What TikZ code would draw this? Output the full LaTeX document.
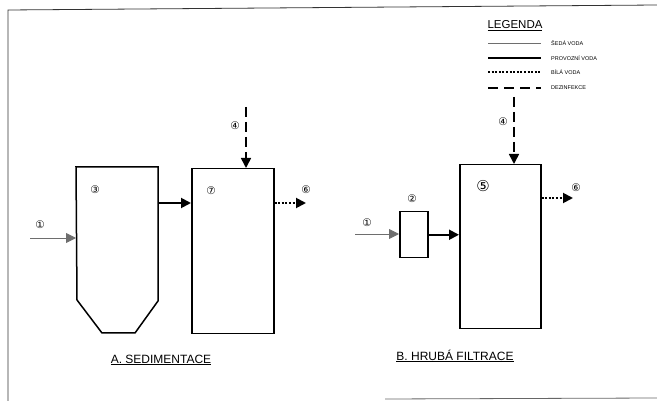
\documentclass[tikz,border=0pt]{standalone}
\usepackage{fontspec}
\setmainfont{Liberation Sans}
\newfontfamily\symfont{DejaVu Sans}
\usetikzlibrary{arrows.meta,positioning}
\definecolor{greywater}{HTML}{6E6E6E}
\tikzset{
  unit/.style={draw,line width=1.5pt,inner sep=0pt},
  tip/.style={-{Triangle[length=10pt,width=10pt]}},
  greyline/.style={draw=greywater,line width=0.9pt},
  provline/.style={line width=1.9pt},
  whiteline/.style={line width=1.9pt,dash pattern=on 2pt off 1.6pt},
  dezline/.style={line width=1.6pt,dash pattern=on 10pt off 5pt},
  num/.style={font=\symfont\fontsize{10.5}{10.5}\selectfont,inner sep=0pt},
  legtext/.style={font=\fontsize{5.5}{6}\selectfont,inner sep=0pt,anchor=west},
  title/.style={font=\fontsize{12}{14}\selectfont,inner sep=0pt}
}
\begin{document}
\begin{tikzpicture}[x=1pt,y=-1pt]
  \useasboundingbox (0,0) rectangle (657,403);
  % frame
  \draw[line width=0.8pt,black!80] (8,401) -- (8,10) -- (657,5);
  \draw[line width=0.8pt,black!60] (385,399) -- (657,398);

  % Legend
  \node[font=\fontsize{11.5}{13}\selectfont,inner sep=0pt] (leg) at (515,26) {\underline{LEGENDA}};
  \node[legtext] (lg1) at (551,43) {ŠEDÁ VODA};
  \node[legtext] (lg2) at (551,58) {PROVOZNÍ VODA};
  \node[legtext] (lg3) at (551,72) {BÍLÁ VODA};
  \node[legtext] (lg4) at (551,88) {DEZINFEKCE};
  \draw[greyline] ([xshift=-63pt]lg1.west) -- ([xshift=-10pt]lg1.west);
  \draw[provline] ([xshift=-63pt]lg2.west) -- ([xshift=-10pt]lg2.west);
  \draw[whiteline] ([xshift=-63pt]lg3.west) -- ([xshift=-10pt]lg3.west);
  \draw[dezline,dash pattern=on 10pt off 6pt] ([xshift=-63pt]lg4.west) -- ([xshift=-10pt]lg4.west);

  % A. Sedimentace
  \draw[unit] (76,167) -- (158,167) -- (158,301) -- (135,333) -- (102,333) -- (77,300) -- cycle;
  \coordinate (s3in) at (76,238);
  \coordinate (s3out) at (158,203);
  \node[unit,minimum width=82pt,minimum height=165pt,anchor=north west] (n7) at (191,168) {};
  \coordinate (a1) at (30,238);
  \coordinate (a4) at (246,107);
  \coordinate (a6) at (306,203);
  \draw[greyline,tip,greywater] (a1) -- (s3in);
  \draw[provline,tip] (s3out) -- (n7.west |- s3out);
  \draw[dezline,tip] (a4) -- (a4 |- n7.north);
  \draw[whiteline,tip] (n7.east |- a6) -- (a6);
  \node[num] (l1) at (40,225) {①};
  \node[num] (l3) at (95,190) {③};
  \node[num] (l7) at (211,191) {⑦};
  \node[num] (l4) at (235,126) {④};
  \node[num] (l6) at (306,190) {⑥};
  \node[title] (ta) at (161,360) {\underline{A. SEDIMENTACE}};

  % B. Hruba filtrace
  \node[unit,minimum width=28pt,minimum height=46pt,anchor=north west] (n2) at (399,211) {};
  \node[unit,minimum width=81pt,minimum height=164pt,anchor=north west] (n5) at (459,164) {};
  \coordinate (b1) at (355,234);
  \coordinate (b4) at (514,97);
  \coordinate (b6) at (573,198);
  \draw[greyline,tip,greywater] (b1) -- (n2.west |- b1);
  \draw[provline,tip] (n2.east) -- (n5.west |- n2.east);
  \draw[dezline,tip] (b4) -- (b4 |- n5.north);
  \draw[whiteline,tip] (n5.east |- b6) -- (b6);
  \node[num] (m1) at (367,223) {①};
  \node[num] (m2) at (412,199) {②};
  \node[num,font=\symfont\fontsize{15}{15}\selectfont] (m5) at (483,186) {⑤};
  \node[num] (m4) at (503,122) {④};
  \node[num] (m6) at (576,188) {⑥};
  \node[title] (tb) at (455,356) {\underline{B. HRUBÁ FILTRACE}};
\end{tikzpicture}
\end{document}
